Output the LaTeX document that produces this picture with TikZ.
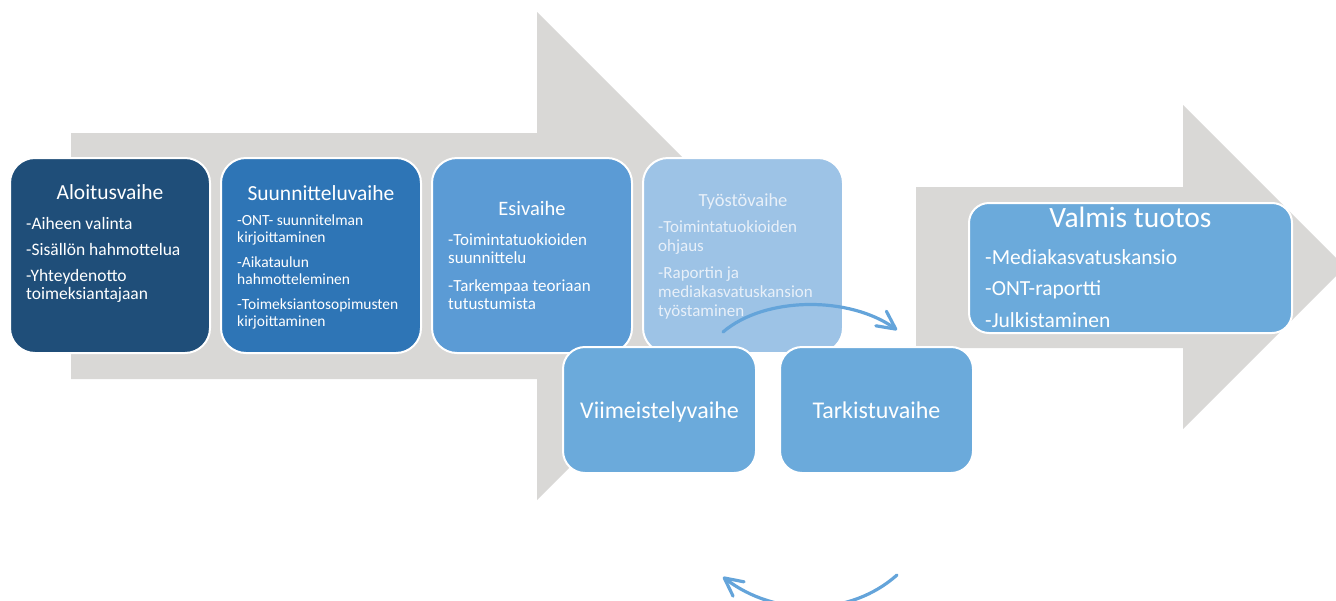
\documentclass[tikz,border=0pt]{standalone}
\usepackage{fontspec}
\setmainfont{Carlito}
\usetikzlibrary{positioning,chains,arrows.meta}

\definecolor{bgarrow}{RGB}{217,216,214}
\definecolor{phaseA}{RGB}{31,78,121}
\definecolor{phaseB}{RGB}{46,117,182}
\definecolor{phaseC}{RGB}{91,155,213}
\definecolor{phaseD}{RGB}{157,195,230}
\definecolor{phaseE}{RGB}{107,170,219}
\definecolor{turnblue}{RGB}{100,164,218}
\definecolor{paletext}{RGB}{232,240,249}

\tikzstyle{phase}=[draw=white,line width=2pt,rounded corners=25pt,minimum width=200pt,minimum height=195pt,outer sep=0pt,inner sep=0pt]
\tikzstyle{subphase}=[phase,fill=phaseE,minimum width=193pt,minimum height=126pt,rounded corners=22pt,text=white,text depth=0pt,font=\fontsize{24}{28}\selectfont]
\tikzstyle{phasetitle}=[anchor=base,inner sep=0pt,text=white]
\tikzstyle{items}=[anchor=base west,inner sep=0pt,align=left,text=white]
\tikzstyle{turnarrow}=[draw=turnblue,line width=3.2pt,line cap=round,-{Straight Barb[length=18pt,width=18pt,round]}]

\begin{document}
\begin{tikzpicture}[x=1pt,y=-1pt]
	\clip (0,0) rectangle (1336,600);
	% grey arrows behind
	\fill[bgarrow] (71,133) -- (537,133) -- (537,12) -- (781,256) -- (537,500) -- (537,379) -- (71,379) -- cycle;
	\fill[bgarrow] (916,187) -- (1183,187) -- (1183,105) -- (1345,267) -- (1183,429) -- (1183,348) -- (916,348) -- cycle;
	
	\begin{scope}[start chain=row going right, node distance=11pt]
	\node [on chain=row,phase,fill=phaseA] (aloitus) at (110,255.5) {};
	\node [on chain=row,phase,fill=phaseB] (suunnittelu) {};
	\node [on chain=row,phase,fill=phaseC] (esi) {};
	\node [on chain=row,phase,fill=phaseD] (tyosto) {};
	\end{scope}
	
	% texts, lists sit on their last baseline
	\node[phasetitle,font=\fontsize{21.5}{25}\selectfont] (aloitusT) at ([yshift=-41pt]aloitus.north) {Aloitusvaihe};
	\node[items,font=\fontsize{17.5}{18}\selectfont] (aloitusL) at (26,299) {-Aiheen valinta\\[8pt]-Sisällön hahmottelua\\[8pt]-Yhteydenotto\\toimeksiantajaan};
	
	\node[phasetitle,font=\fontsize{21.5}{25}\selectfont] (suunnitteluT) at ([yshift=-42pt]suunnittelu.north) {Suunnitteluvaihe};
	\node[items,font=\fontsize{15.5}{17}\selectfont] (suunnitteluL) at (237,326) {-ONT- suunnitelman\\kirjoittaminen\\[8pt]-Aikataulun\\hahmotteleminen\\[7.5pt]-Toimeksiantosopimusten\\kirjoittaminen};
	
	\node[phasetitle,font=\fontsize{20.5}{24}\selectfont] (esiT) at ([yshift=-57pt]esi.north) {Esivaihe};
	\node[items,font=\fontsize{17}{18}\selectfont] (esiL) at (448,309) {-Toimintatuokioiden\\suunnittelu\\[10pt]-Tarkempaa teoriaan\\tutustumista};
	
	\node[phasetitle,text=paletext,font=\fontsize{18.5}{22}\selectfont] (tyostoT) at ([yshift=-48pt]tyosto.north) {Työstövaihe};
	\node[items,text=paletext,font=\fontsize{17}{19}\selectfont] (tyostoL) at (658,316) {-Toimintatuokioiden\\ohjaus\\[8pt]-Raportin ja\\mediakasvatuskansion\\työstaminen};
	
	\node[subphase] (viimeistely) at (659.5,410) {Viimeistelyvaihe};
	\node[subphase,right=24pt of viimeistely] (tarkistu) {Tarkistuvaihe};
	
	\node[phase,fill=phaseE,minimum width=323pt,minimum height=130pt,rounded corners=20pt] (valmis) at (1130.5,268) {};
	\node[phasetitle,font=\fontsize{29.5}{32}\selectfont] (valmisT) at ([yshift=-24pt]valmis.north) {Valmis tuotos};
	\node[items,font=\fontsize{21.5}{31.5}\selectfont] (valmisL) at (985,327) {-Mediakasvatuskansio\\-ONT-raportti\\-Julkistaminen};
	
	% round trip arrows
	\coordinate (upS) at (723,332);
	\coordinate (upE) at (897,330);
	\draw[turnarrow] (upS) .. controls (765,296) and (850,296) .. (upE);
	\coordinate (downS) at (897,575);
	\coordinate (downE) at (723,577);
	\draw[turnarrow] (downS) .. controls (850,617) and (775,617) .. (downE);
\end{tikzpicture}
\end{document}
